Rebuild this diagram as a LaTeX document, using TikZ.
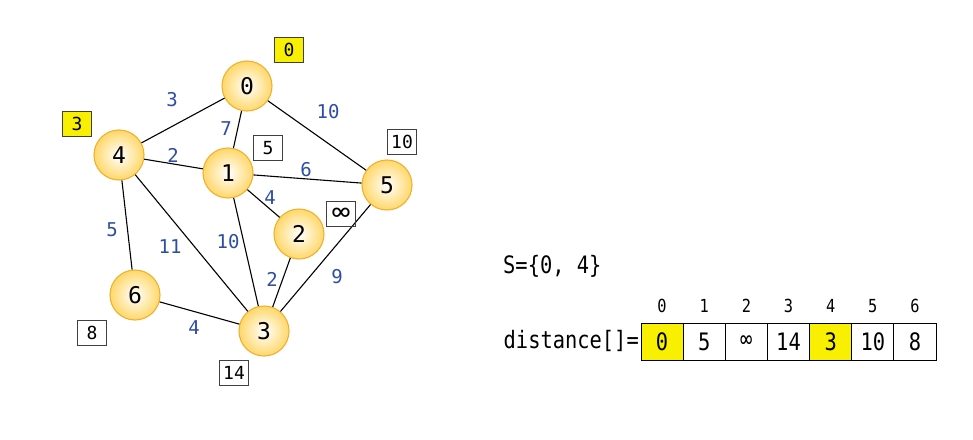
\documentclass[tikz,border=0pt]{standalone}
\usepackage{fontspec}
\usepackage{graphicx}
\setmainfont{DejaVu Sans Mono}
\newfontfamily\narrowmono[FakeStretch=0.85]{DejaVu Sans Mono}
\definecolor{nodeborder}{HTML}{F0B030}
\definecolor{nodefill}{HTML}{FFD86A}
\definecolor{weightblue}{HTML}{2E4DA7}
\definecolor{hlyellow}{HTML}{F8F000}
\begin{document}
\begin{tikzpicture}[x=1pt,y=-1pt,
  vertex/.style={circle, minimum size=50pt, inner sep=0pt, draw=nodeborder, line width=1.1pt,
    shading=radial, inner color=white, outer color=nodefill, font=\fontsize{23}{23}\selectfont},
  weight/.style={text=weightblue, inner sep=0pt, font=\fontsize{19}{19}\selectfont},
  dbox/.style={draw=black!75, line width=0.8pt, minimum width=29pt, minimum height=25pt,
    inner sep=0pt, font=\fontsize{18}{18}\selectfont},
  hl/.style={fill=hlyellow},
  cell/.style={draw, line width=0.9pt, minimum width=42.14pt, minimum height=37pt, inner sep=0pt,
    outer sep=0pt, font=\narrowmono\fontsize{24}{24}\selectfont},
  idx/.style={inner sep=0pt, font=\narrowmono\fontsize{18}{18}\selectfont},
  txt/.style={inner sep=0pt, font=\narrowmono\fontsize{24}{24}\selectfont},
  edge/.style={draw=black, line width=1.1pt}]
\useasboundingbox (0,0) rectangle (973,439);
\fill[white] (0,0) rectangle (973,439);

% vertices
\node[vertex] (v0) at (247,86) {0};
\node[vertex] (v4) at (119,155) {4};
\node[vertex] (v1) at (228,173) {1};
\node[vertex] (v5) at (387,185) {5};
\node[vertex] (v2) at (299,234) {2};
\node[vertex] (v6) at (135,295) {6};
\node[vertex] (v3) at (264,331) {3};

% edges
\draw[edge] (v0) -- (v4);
\draw[edge] (v0) -- (v1);
\draw[edge] (v0) -- (v5);
\draw[edge] (v4) -- (v1);
\draw[edge] (v1) -- (v5);
\draw[edge] (v1) -- (v2);
\draw[edge] (v4) -- (v6);
\draw[edge] (v4) -- (v3);
\draw[edge] (v1) -- (v3);
\draw[edge] (v2) -- (v3);
\draw[edge] (v5) -- (v3);
\draw[edge] (v6) -- (v3);

% weights
\node[weight] (w04) at (172,100) {3};
\node[weight] (w05) at (328,112) {10};
\node[weight] (w01) at (226,129) {7};
\node[weight] (w41) at (173,155) {2};
\node[weight] (w15) at (306,170) {6};
\node[weight] (w12) at (270,198) {4};
\node[weight] (w46) at (112,230) {5};
\node[weight] (w43) at (170,247) {11};
\node[weight] (w13) at (228,242) {10};
\node[weight] (w23) at (272,279) {2};
\node[weight] (w53) at (337,277) {9};
\node[weight] (w63) at (194,328) {4};

% distance boxes
\node[dbox,hl] (d0) at (289,50) {0};
\node[dbox,hl] (d4) at (77,124) {3};
\node[dbox] (d1) at (268,148) {5};
\node[dbox] (d5) at (402,142) {10};
\node[dbox] (d2) at (341,214) {\scalebox{1.7}[1.4]{∞}};
\node[dbox] (d6) at (92,333) {8};
\node[dbox] (d3) at (234,373) {14};

% right side
\node[txt, anchor=west] (S) at (503,266) {S=\{0, 4\}};
\node[txt, anchor=east] (dist) at (639,341) {distance[]=};
\node[cell,hl] (c0) at (662.07,341.5) {0};
\node[cell] (c1) at (704.21,341.5) {5};
\node[cell] (c2) at (746.35,341.5) {∞};
\node[cell] (c3) at (788.49,341.5) {14};
\node[cell,hl] (c4) at (830.63,341.5) {3};
\node[cell] (c5) at (872.77,341.5) {10};
\node[cell] (c6) at (914.91,341.5) {8};
\node[idx] (i0) at (662.07,306) {0};
\node[idx] (i1) at (704.21,306) {1};
\node[idx] (i2) at (746.35,306) {2};
\node[idx] (i3) at (788.49,306) {3};
\node[idx] (i4) at (830.63,306) {4};
\node[idx] (i5) at (872.77,306) {5};
\node[idx] (i6) at (914.91,306) {6};
\end{tikzpicture}
\end{document}
